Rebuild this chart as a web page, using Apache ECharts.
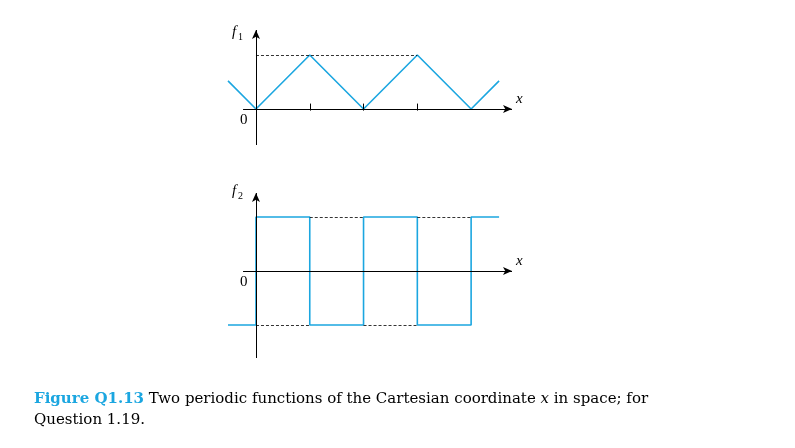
<!DOCTYPE html>
<html><head><meta charset="utf-8">
<script src="https://cdn.jsdelivr.net/npm/echarts@6/dist/echarts.min.js"></script>
<style>html,body{margin:0;background:#fff}#c{width:795px;height:448px}</style>
</head><body><div id="c"></div>
<script>
// f1: triangle wave, f2: square wave (x in half-periods)
const triangle = [[-0.52, 0.52], [0, 0], [1, 1], [2, 0], [3, 1], [4, 0], [4.52, 0.52]];
const square = [[-0.52, -1], [0, -1], [0, 1], [1, 1], [1, -1], [2, -1], [2, 1], [3, 1], [3, -1], [4, -1], [4, 1], [4.52, 1]];
const topDashes = [[[0, 1], [3, 1]]];
const squareDashes = [[[1, 1], [2, 1]], [[3, 1], [4, 1]], [[0, -1], [1, -1]], [[2, -1], [3, -1]]];
const tickXs = [1, 2, 3];

const blue = '#1ba6e0';
const serif = 'DejaVu Serif';

function axes(yMin, yMax, ticks) {
  const lines = [
    [{ coord: [-0.24, 0] }, { coord: [4.76, 0] }],
    [{ coord: [0, yMin] }, { coord: [0, yMax] }]
  ];
  const tickLines = ticks.map(t => [{ coord: [t, -0.03], symbol: 'none' }, { coord: [t, 0.1], symbol: 'none' }]);
  return { symbol: ['none', 'arrow'], symbolSize: [6, 9], silent: true, animation: false,
    lineStyle: { color: '#000', width: 1, type: 'solid' }, label: { show: false },
    data: lines.concat(tickLines) };
}
function dashes(list) {
  return { symbol: 'none', silent: true, animation: false, label: { show: false },
    lineStyle: { color: '#000', width: 0.8, type: [3, 2] },
    data: list.map(s => [{ coord: s[0] }, { coord: s[1] }]) };
}

const chart = echarts.init(document.getElementById('c'));
chart.setOption({
  animation: false,
  grid: [
    { left: 228, width: 284, top: 30, height: 115 },
    { left: 228, width: 284, top: 193, height: 165 }
  ],
  xAxis: [
    { type: 'value', gridIndex: 0, min: -0.52, max: 4.76, show: false },
    { type: 'value', gridIndex: 1, min: -0.52, max: 4.76, show: false }
  ],
  yAxis: [
    { type: 'value', gridIndex: 0, min: -0.667, max: 1.463, show: false },
    { type: 'value', gridIndex: 1, min: -1.61, max: 1.444, show: false }
  ],
  series: [
    { type: 'line', xAxisIndex: 0, yAxisIndex: 0, data: triangle, showSymbol: false,
      lineStyle: { color: blue, width: 1.6 }, markLine: dashes(topDashes) },
    { type: 'line', xAxisIndex: 0, yAxisIndex: 0, data: [], markLine: axes(-0.667, 1.463, tickXs) },
    { type: 'line', xAxisIndex: 1, yAxisIndex: 1, data: square, showSymbol: false,
      lineStyle: { color: blue, width: 1.6 }, markLine: dashes(squareDashes) },
    { type: 'line', xAxisIndex: 1, yAxisIndex: 1, data: [], markLine: axes(-1.61, 1.444, []) }
  ],
  graphic: [
    { type: 'text', left: 232, top: 25, style: { text: 'f', font: 'italic 15px Liberation Serif', fill: '#000' } },
    { type: 'text', left: 238, top: 32, style: { text: '1', font: '10px Liberation Serif', fill: '#000' } },
    { type: 'text', left: 240, top: 113, style: { text: '0', font: '15px Liberation Serif', fill: '#000' } },
    { type: 'text', left: 516, top: 92, style: { text: 'x', font: 'italic 15px Liberation Serif', fill: '#000' } },
    { type: 'text', left: 232, top: 184, style: { text: 'f', font: 'italic 15px Liberation Serif', fill: '#000' } },
    { type: 'text', left: 238, top: 191, style: { text: '2', font: '10px Liberation Serif', fill: '#000' } },
    { type: 'text', left: 240, top: 275, style: { text: '0', font: '15px Liberation Serif', fill: '#000' } },
    { type: 'text', left: 516, top: 254, style: { text: 'x', font: 'italic 15px Liberation Serif', fill: '#000' } },
    { type: 'text', left: 34, top: 389, style: {
      text: '{b|Figure Q1.13} Two periodic functions of the Cartesian coordinate {i|x} in space; for\nQuestion 1.19.',
      fontFamily: serif, fontSize: 15, fill: '#000', lineHeight: 21,
      rich: { b: { fontWeight: 'bold', fill: blue, fontFamily: serif, fontSize: 15 },
              i: { fontStyle: 'italic', fontFamily: serif, fontSize: 15 } } } }
  ]
});
</script></body></html>
